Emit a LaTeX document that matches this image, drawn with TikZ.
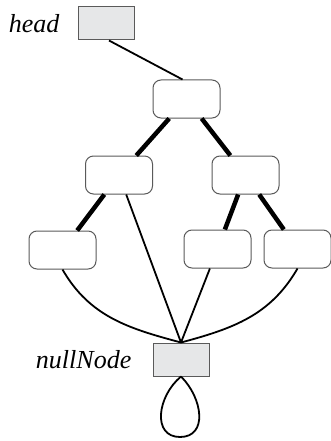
\documentclass[tikz,border=0pt]{standalone}
\usepackage{fontspec}
\setmainfont{Liberation Serif}
\usetikzlibrary{positioning}
\definecolor{boxgray}{HTML}{E6E7E8}
\definecolor{rimgray}{HTML}{5A5A5A}
\begin{document}
\begin{tikzpicture}[x=1pt, y=-1pt,
    elem/.style={draw=rimgray, line width=1pt, rounded corners=8pt, fill=white,
      minimum width=67pt, minimum height=38pt},
    ptr/.style={draw=rimgray, line width=1pt, fill=boxgray,
      minimum width=56pt, minimum height=33pt},
    tag/.style={inner sep=0pt, font=\fontsize{26}{30}\selectfont\itshape},
    link/.style={line width=1.8pt},
    heavy/.style={line width=4.5pt}]
  \useasboundingbox (0,0) rectangle (331,441);
  % boxes
  \node[ptr]  (head)   at (106,23.5)  {};
  \node[elem] (root)   at (186.5,99)  {};
  \node[elem] (lft)    at (119,175)   {};
  \node[elem] (rgt)    at (245.5,175) {};
  \node[elem] (lftlft) at (62.5,250)  {};
  \node[elem] (rgtlft) at (217.5,249) {};
  \node[elem] (rgtrgt) at (297.5,249) {};
  \node[ptr]  (null)   at (181,359.5) {};
  \coordinate (loopbot) at (180,437);
  % labels
  \node[tag, left=18pt of head] (headtag) {head};
  \node[tag, left=21pt of null] (nulltag) {nullNode};
  % links
  \draw[link]  ([xshift=3pt]head.south) -- ([xshift=-4pt]root.north);
  \draw[heavy] (root) -- (lft);
  \draw[heavy] (root) -- (rgt);
  \draw[heavy] (lft) -- (lftlft);
  \draw[heavy] (rgt) -- (rgtlft);
  \draw[heavy] (rgt) -- (rgtrgt);
  \draw[link]  (lft) -- (null.north);
  \draw[link]  (rgtlft) -- (null.north);
  \draw[link]  (lftlft.south) to[out=-60, in=165] (null.north);
  \draw[link]  (rgtrgt.south) to[out=-120, in=15] (null.north);
  \draw[link]  (null.south) .. controls +(-24,20) and +(-28,0) .. (loopbot)
                            .. controls +(28,0) and +(22,22) .. (null.south);
\end{tikzpicture}
\end{document}
